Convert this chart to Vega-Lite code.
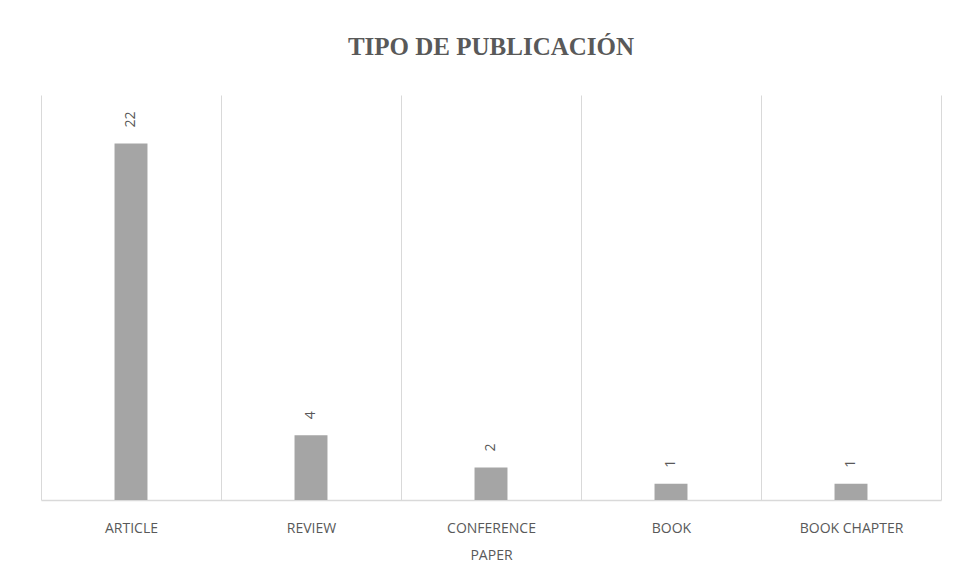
{
  "$schema": "https://vega.github.io/schema/vega-lite/v6.json",
  "width": 900,
  "height": 405,
  "autosize": {"type": "none"},
  "padding": {"left": 41, "top": 95, "right": 19, "bottom": 80},
  "background": "white",
  "title": {
    "text": "TIPO DE PUBLICACIÓN",
    "font": "Liberation Serif",
    "fontSize": 25,
    "fontWeight": "bold",
    "color": "#595959",
    "anchor": "middle",
    "baseline": "alphabetic",
    "offset": 15
  },
  "data": {
    "values": [
      {"tipo": "ARTICLE", "n": 22},
      {"tipo": "REVIEW", "n": 4},
      {"tipo": "CONFERENCE PAPER", "n": 2},
      {"tipo": "BOOK", "n": 1},
      {"tipo": "BOOK CHAPTER", "n": 1}
    ]
  },
  "encoding": {
    "x": {
      "field": "tipo",
      "type": "nominal",
      "sort": null,
      "scale": {"paddingInner": 0, "paddingOuter": 0},
      "axis": {
        "title": null,
        "labelAngle": 0,
        "labelFont": "Open Sans",
        "labelFontSize": 14,
        "labelColor": "#595959",
        "labelPadding": 21,
        "labelLineHeight": 27,
        "labelBaseline": "top",
        "labelExpr": "datum.label == 'CONFERENCE PAPER' ? ['CONFERENCE', 'PAPER'] : datum.label",
        "ticks": false,
        "domainColor": "#d9d9d9",
        "domainWidth": 1.5,
        "grid": true,
        "gridColor": "#d9d9d9",
        "gridWidth": 1,
        "tickBand": "extent"
      }
    },
    "y": {
      "field": "n",
      "type": "quantitative",
      "scale": {"domain": [0, 25], "nice": false},
      "axis": null
    }
  },
  "layer": [
    {
      "mark": {"type": "bar", "color": "#a5a5a5", "width": {"band": 0.183}}
    },
    {
      "mark": {
        "type": "text",
        "angle": 270,
        "align": "left",
        "baseline": "middle",
        "dx": 16,
        "font": "Open Sans",
        "fontSize": 14,
        "color": "#595959"
      },
      "encoding": {"text": {"field": "n", "type": "quantitative"}}
    }
  ],
  "config": {"view": {"stroke": null}}
}
